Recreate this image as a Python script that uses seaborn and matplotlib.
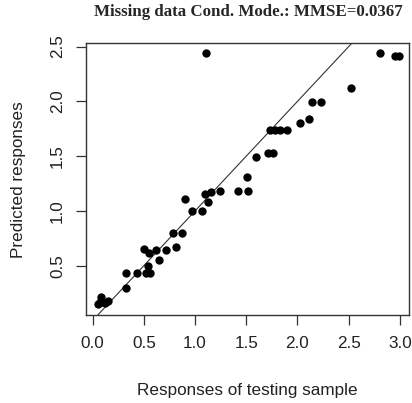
import matplotlib
matplotlib.use("Agg")
import matplotlib.pyplot as plt
import seaborn as sns
import pandas as pd

observed = [0.05, 0.07, 0.08, 0.10, 0.12, 0.15, 0.33, 0.33, 0.43, 0.52, 0.56, 0.54,
            0.50, 0.55, 0.62, 0.65, 0.72, 0.81, 0.78, 0.87, 0.90, 0.97, 1.07, 1.10,
            1.13, 1.16, 1.24, 1.11, 1.42, 1.52, 1.51, 1.595, 1.71, 1.76, 1.73, 1.78,
            1.83, 1.90, 2.02, 2.11, 2.14, 2.23, 2.52, 2.81, 2.95, 2.99]
predicted = [0.15, 0.17, 0.21, 0.17, 0.16, 0.18, 0.30, 0.43, 0.43, 0.43, 0.43, 0.50,
             0.65, 0.62, 0.64, 0.55, 0.64, 0.67, 0.80, 0.80, 1.11, 1.00, 1.00, 1.15,
             1.08, 1.17, 1.18, 2.44, 1.18, 1.18, 1.31, 1.49, 1.53, 1.53, 1.74, 1.74,
             1.74, 1.74, 1.80, 1.84, 1.99, 1.99, 2.12, 2.44, 2.41, 2.41]
x_ticks = [0.0, 0.5, 1.0, 1.5, 2.0, 2.5, 3.0]
y_ticks = [0.5, 1.0, 1.5, 2.0, 2.5]
title = "Missing data Cond. Mode.: MMSE=0.0367"
x_label = "Responses of testing sample"
y_label = "Predicted responses"

df = pd.DataFrame({"obs": observed, "pred": predicted})

sns.set_style("white")
plt.rcParams["font.family"] = ["Liberation Sans", "DejaVu Sans"]

fig = plt.figure(figsize=(4.12, 4.03), dpi=100)
ax = fig.add_axes([86/412, 1-315/403, (409-86)/412, (315-43.3)/403])

sns.scatterplot(data=df, x="obs", y="pred", ax=ax, color="black", s=36,
                edgecolor="black", linewidth=0, legend=False, zorder=3)
ax.axline((0, 0), slope=1, color="#333333", lw=0.8, zorder=2)

ax.set_xlim(-0.065, 3.089)
ax.set_ylim(0.05, 2.53)
ax.set_xticks(x_ticks)
ax.set_xticklabels([f"{v:.1f}" for v in x_ticks])
ax.set_yticks(y_ticks)
ax.set_yticklabels([f"{v:.1f}" for v in y_ticks], rotation=90, va="center")
ax.tick_params(axis="both", direction="out", length=7, width=0.9, color="#333333",
               labelsize=12.3, labelcolor="#222222", pad=8, bottom=True, left=True)
for s in ax.spines.values():
    s.set_color("#333333")
    s.set_linewidth(1.0)

ax.set_xlabel(x_label, fontsize=12.3, color="#222222", labelpad=23)
ax.set_ylabel(y_label, fontsize=12.3, color="#222222", labelpad=17.5)
fig.text(248/412, 1-12.5/403, title, ha="center", va="center",
         fontfamily="Liberation Serif", fontweight="bold", fontsize=12.2)

fig.savefig("out.png", dpi=100)
